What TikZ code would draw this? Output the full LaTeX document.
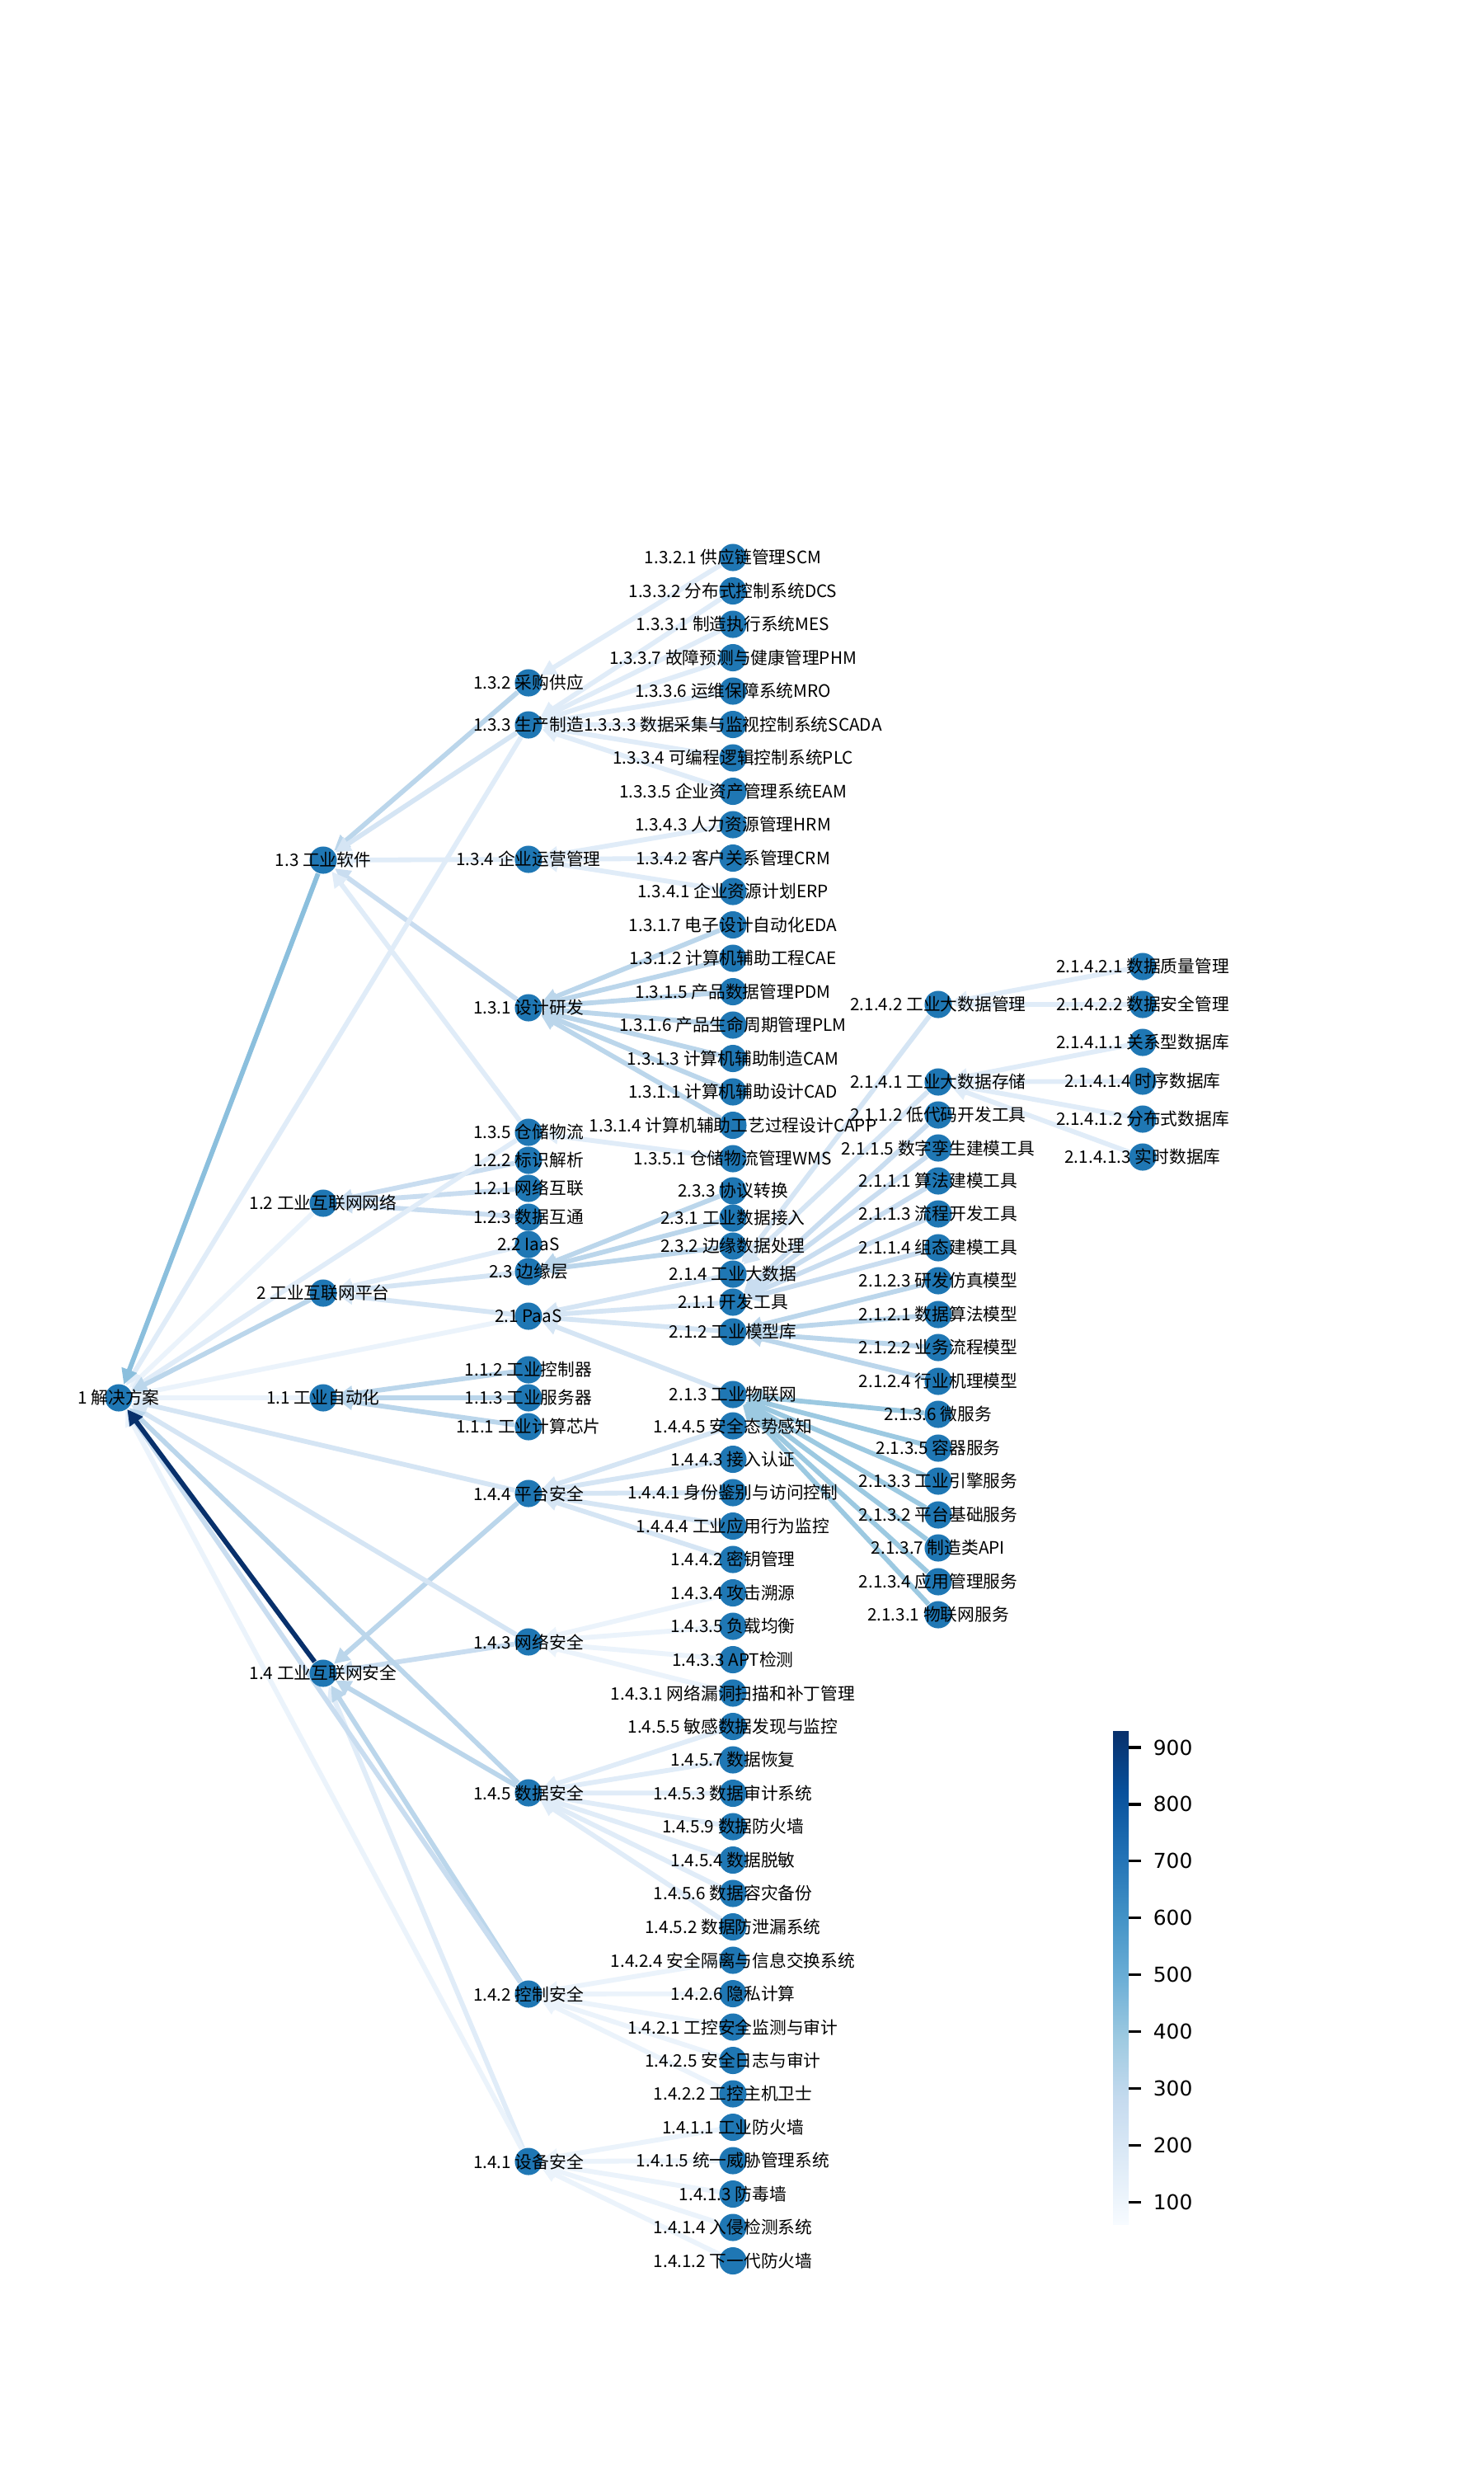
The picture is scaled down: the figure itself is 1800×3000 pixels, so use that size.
\documentclass[tikz,border=0pt]{standalone}
\usepackage{fontspec}
\usetikzlibrary{arrows.meta,backgrounds}

\newfontfamily\cjk{Noto Sans CJK SC}
\newfontfamily\dejavu{DejaVu Sans}

\definecolor{nodeblue}{HTML}{1F77B4}
\definecolor{wa}{HTML}{EBF3FB}
\definecolor{wb}{HTML}{E0ECF8}
\definecolor{wc}{HTML}{D5E5F4}
\definecolor{wd}{HTML}{C9DDF0}
\definecolor{we}{HTML}{BBD6EB}
\definecolor{wf}{HTML}{9CC9E1}
\definecolor{wg}{HTML}{8BBFDD}
\definecolor{wh}{HTML}{08306B}
\definecolor{bla}{HTML}{F7FBFF}
\definecolor{blb}{HTML}{DEEBF7}
\definecolor{blc}{HTML}{C6DBEF}
\definecolor{bld}{HTML}{9ECAE1}
\definecolor{ble}{HTML}{6BAED6}
\definecolor{blf}{HTML}{4292C6}
\definecolor{blg}{HTML}{2171B5}
\definecolor{blh}{HTML}{08519C}
\definecolor{bli}{HTML}{08306B}

\pgfdeclareverticalshading{blues}{100bp}{color(0bp)=(bla); color(25bp)=(bla);
   color(31.25bp)=(blb); color(37.5bp)=(blc); color(43.75bp)=(bld);
   color(50bp)=(ble); color(56.25bp)=(blf); color(62.5bp)=(blg);
   color(68.75bp)=(blh); color(75bp)=(bli); color(100bp)=(bli)}

\tikzset{
   dot/.style={circle, fill=nodeblue, inner sep=0pt, minimum size=2.8mm},
   lbl/.style={font=\cjk\fontsize{5}{6}\selectfont, inner sep=0pt},
   link/.style={draw=#1, line width=1.4pt, -{Triangle[length=4.5pt,width=4.5pt]}},
   cbtick/.style={font=\dejavu\fontsize{6}{7}\selectfont, inner sep=0pt, anchor=west}
}

\def\treenodes{
n1/144/1695/1 解决方案,
n13/392/1043/1.3 工业软件,
n12/392/1459/1.2 工业互联网网络,
n2/392/1568/2 工业互联网平台,
n11/392/1695/1.1 工业自动化,
n14/392/2029/1.4 工业互联网安全,
n132/641/828/1.3.2 采购供应,
n133/641/879/1.3.3 生产制造,
n134/641/1042/1.3.4 企业运营管理,
n131/641/1222/1.3.1 设计研发,
n135/641/1373/1.3.5 仓储物流,
n122/641/1407/1.2.2 标识解析,
n121/641/1441/1.2.1 网络互联,
n123/641/1476/1.2.3 数据互通,
n22/641/1509/2.2 IaaS,
n23/641/1542/2.3 边缘层,
n21/641/1596/2.1 PaaS,
n112/641/1661/1.1.2 工业控制器,
n113/641/1695/1.1.3 工业服务器,
n111/641/1730/1.1.1 工业计算芯片,
n144/641/1811/1.4.4 平台安全,
n143/641/1991/1.4.3 网络安全,
n145/641/2174/1.4.5 数据安全,
n142/641/2418/1.4.2 控制安全,
n141/641/2621/1.4.1 设备安全,
n1321/889/676/1.3.2.1 供应链管理SCM,
n1332/889/716.5/1.3.3.2 分布式控制系统DCS,
n1331/889/757/1.3.3.1 制造执行系统MES,
n1337/889/797.5/1.3.3.7 故障预测与健康管理PHM,
n1336/889/838/1.3.3.6 运维保障系统MRO,
n1333/889/878.5/1.3.3.3 数据采集与监视控制系统SCADA,
n1334/889/919/1.3.3.4 可编程逻辑控制系统PLC,
n1335/889/959.5/1.3.3.5 企业资产管理系统EAM,
n1343/889/1000/1.3.4.3 人力资源管理HRM,
n1342/889/1040.5/1.3.4.2 客户关系管理CRM,
n1341/889/1081/1.3.4.1 企业资源计划ERP,
n1317/889/1121.5/1.3.1.7 电子设计自动化EDA,
n1312/889/1162/1.3.1.2 计算机辅助工程CAE,
n1315/889/1202.5/1.3.1.5 产品数据管理PDM,
n1316/889/1243/1.3.1.6 产品生命周期管理PLM,
n1313/889/1283.5/1.3.1.3 计算机辅助制造CAM,
n1311/889/1324/1.3.1.1 计算机辅助设计CAD,
n1314/889/1364.5/1.3.1.4 计算机辅助工艺过程设计CAPP,
n1351/889/1405/1.3.5.1 仓储物流管理WMS,
n233/889/1444/2.3.3 协议转换,
n231/889/1477/2.3.1 工业数据接入,
n232/889/1511/2.3.2 边缘数据处理,
n214/889/1545/2.1.4 工业大数据,
n211/889/1579/2.1.1 开发工具,
n212/889/1615/2.1.2 工业模型库,
n213/889/1691/2.1.3 工业物联网,
n1445/889/1729/1.4.4.5 安全态势感知,
n1443/889/1769.5/1.4.4.3 接入认证,
n1441/889/1810/1.4.4.1 身份鉴别与访问控制,
n1444/889/1850.5/1.4.4.4 工业应用行为监控,
n1442/889/1891/1.4.4.2 密钥管理,
n1434/889/1931.5/1.4.3.4 攻击溯源,
n1435/889/1972/1.4.3.5 负载均衡,
n1433/889/2012.5/1.4.3.3 APT检测,
n1431/889/2053/1.4.3.1 网络漏洞扫描和补丁管理,
n1455/889/2093.5/1.4.5.5 敏感数据发现与监控,
n1457/889/2134/1.4.5.7 数据恢复,
n1453/889/2174.5/1.4.5.3 数据审计系统,
n1459/889/2215/1.4.5.9 数据防火墙,
n1454/889/2255.5/1.4.5.4 数据脱敏,
n1456/889/2296/1.4.5.6 数据容灾备份,
n1452/889/2336.5/1.4.5.2 数据防泄漏系统,
n1424/889/2377/1.4.2.4 安全隔离与信息交换系统,
n1426/889/2417.5/1.4.2.6 隐私计算,
n1421/889/2458/1.4.2.1 工控安全监测与审计,
n1425/889/2498.5/1.4.2.5 安全日志与审计,
n1422/889/2539/1.4.2.2 工控主机卫士,
n1411/889/2579.5/1.4.1.1 工业防火墙,
n1415/889/2620/1.4.1.5 统一威胁管理系统,
n1413/889/2660.5/1.4.1.3 防毒墙,
n1414/889/2701/1.4.1.4 入侵检测系统,
n1412/889/2741.5/1.4.1.2 下一代防火墙,
n2142/1138/1218/2.1.4.2 工业大数据管理,
n2141/1138/1312/2.1.4.1 工业大数据存储,
n2112/1138/1352/2.1.1.2 低代码开发工具,
n2115/1138/1392/2.1.1.5 数字孪生建模工具,
n2111/1138/1432/2.1.1.1 算法建模工具,
n2113/1138/1472/2.1.1.3 流程开发工具,
n2114/1138/1513/2.1.1.4 组态建模工具,
n2123/1138/1553/2.1.2.3 研发仿真模型,
n2121/1138/1594/2.1.2.1 数据算法模型,
n2122/1138/1634/2.1.2.2 业务流程模型,
n2124/1138/1675/2.1.2.4 行业机理模型,
n2136/1138/1715/2.1.3.6 微服务,
n2135/1138/1756/2.1.3.5 容器服务,
n2133/1138/1796/2.1.3.3 工业引擎服务,
n2132/1138/1837/2.1.3.2 平台基础服务,
n2137/1138/1877/2.1.3.7 制造类API,
n2134/1138/1918/2.1.3.4 应用管理服务,
n2131/1138/1958/2.1.3.1 物联网服务,
n21421/1386/1172/2.1.4.2.1 数据质量管理,
n21422/1386/1218/2.1.4.2.2 数据安全管理,
n21411/1386/1264/2.1.4.1.1 关系型数据库,
n21414/1386/1311/2.1.4.1.4 时序数据库,
n21412/1386/1357/2.1.4.1.2 分布式数据库,
n21413/1386/1403/2.1.4.1.3 实时数据库}

\begin{document}
\begin{tikzpicture}[x=0.0846667mm, y=-0.0846667mm]
   \useasboundingbox (0,0) rectangle (1800,3000);

   \foreach \n/\x/\y/\s in \treenodes
   \node[dot] (\n) at (\x,\y) {};

   \begin{scope}[on background layer]
   \fill[white] (0,0) rectangle (1800,3000);

   \foreach \a in {n1411,n1412,n1413,n1414,n1415}
   \draw[link=wa] (\a) -- (n141);
   \foreach \a in {n1421,n1422,n1424,n1425,n1426}
   \draw[link=wa] (\a) -- (n142);
   \foreach \a in {n1431,n1433,n1434,n1435}
   \draw[link=wa] (\a) -- (n143);
   \foreach \a in {n1452,n1453,n1454,n1455,n1456,n1457,n1459}
   \draw[link=wb] (\a) -- (n145);
   \foreach \a in {n1441,n1442,n1443,n1444,n1445}
   \draw[link=wc] (\a) -- (n144);
   \foreach \a in {n1331,n1332,n1333,n1334,n1335,n1336,n1337}
   \draw[link=wb] (\a) -- (n133);
   \draw[link=wb] (n1321) -- (n132);
   \foreach \a in {n1341,n1342,n1343}
   \draw[link=wb] (\a) -- (n134);
   \draw[link=wb] (n1351) -- (n135);
   \foreach \a in {n1311,n1312,n1313,n1314,n1315,n1316,n1317}
   \draw[link=we] (\a) -- (n131);

   \foreach \a in {n21411,n21412,n21413,n21414}
   \draw[link=wb] (\a) -- (n2141);
   \foreach \a in {n21421,n21422}
   \draw[link=wb] (\a) -- (n2142);
   \foreach \a in {n2141,n2142}
   \draw[link=wc] (\a) -- (n214);
   \foreach \a in {n2111,n2112,n2113,n2114,n2115}
   \draw[link=wd] (\a) -- (n211);
   \foreach \a in {n2121,n2122,n2123,n2124}
   \draw[link=we] (\a) -- (n212);
   \foreach \a in {n2131,n2132,n2133,n2134,n2135,n2136,n2137}
   \draw[link=wf] (\a) -- (n213);
   \foreach \a in {n231,n232,n233}
   \draw[link=we] (\a) -- (n23);
   \foreach \a in {n211,n212,n213,n214}
   \draw[link=wc] (\a) -- (n21);
   \foreach \a/\c in {n21/wc,n22/wb,n23/wc}
   \draw[link=\c] (\a) -- (n2);

   \foreach \a in {n111,n112,n113}
   \draw[link=we] (\a) -- (n11);
   \foreach \a in {n121,n122,n123}
   \draw[link=wd] (\a) -- (n12);
   \foreach \a/\c in {n131/wd,n132/we,n133/wc,n134/wb,n135/wb}
   \draw[link=\c] (\a) -- (n13);
   \foreach \a/\c in {n141/wb,n142/we,n143/wd,n144/we,n145/we}
   \draw[link=\c] (\a) -- (n14);

   \foreach \a/\c in {n141/wa,n21/wa,n11/wa,n12/wa,n133/wb,n135/wb,n143/wc,
      n144/wc,n142/wd,n145/we,n2/we,n13/wg,n14/wh}
   \draw[link=\c] (\a) -- (n1);
   \end{scope}

   \foreach \n/\x/\y/\s in \treenodes
   \node[lbl] at (\n) {\s};

   \shade[shading=blues] (1350,2099) rectangle (1369,2697);
   \foreach \v in {100,200,...,900} {
      \draw[line width=0.8pt] (1369,{2119+(900-\v)*0.689}) -- (1384,{2119+(900-\v)*0.689});
      \node[cbtick] at (1398,{2119+(900-\v)*0.689}) {\v};
   }
\end{tikzpicture}
\end{document}
